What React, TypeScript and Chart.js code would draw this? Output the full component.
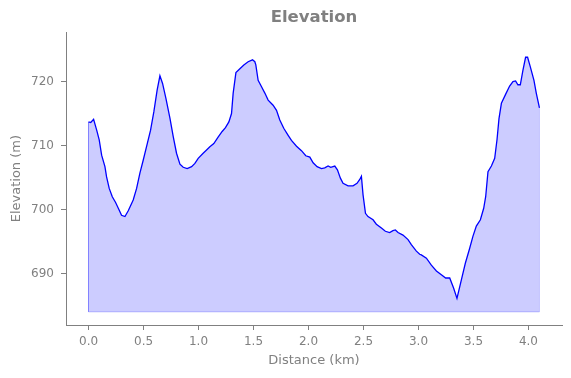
import { useEffect, useRef } from 'react';
import { Chart, registerables } from 'chart.js';

Chart.register(...registerables);

const DISTANCE_KM = [
  0, 0.02, 0.046, 0.074, 0.097, 0.119, 0.149, 0.164, 0.188, 0.216, 0.246, 0.276, 0.3, 0.331, 0.361,
  0.406, 0.437, 0.467, 0.497, 0.534, 0.564, 0.594, 0.624, 0.649, 0.673, 0.703, 0.74, 0.77, 0.8,
  0.831, 0.861, 0.897, 0.937, 0.967, 0.997, 1.042, 1.073, 1.103, 1.139, 1.178, 1.215, 1.245, 1.276,
  1.3, 1.315, 1.34, 1.376, 1.412, 1.451, 1.491, 1.512, 1.521, 1.542, 1.573, 1.603, 1.633, 1.678,
  1.709, 1.739, 1.775, 1.815, 1.845, 1.891, 1.936, 1.975, 2.012, 2.042, 2.078, 2.118, 2.148, 2.178,
  2.202, 2.239, 2.263, 2.29, 2.314, 2.36, 2.405, 2.441, 2.466, 2.481, 2.496, 2.518, 2.541, 2.587,
  2.617, 2.663, 2.699, 2.738, 2.768, 2.79, 2.814, 2.859, 2.905, 2.935, 2.981, 3.011, 3.026, 3.072,
  3.117, 3.163, 3.208, 3.247, 3.284, 3.32, 3.35, 3.39, 3.426, 3.465, 3.495, 3.526, 3.563, 3.593,
  3.611, 3.632, 3.663, 3.693, 3.714, 3.732, 3.754, 3.792, 3.829, 3.859, 3.883, 3.904, 3.926, 3.95,
  3.974, 3.992, 4.017, 4.05, 4.071, 4.1,
];

const ELEVATION_M = [
  713.7, 713.6, 714.1, 712.4, 710.9, 708.5, 706.7, 705.1, 703.3, 702.0, 701.1, 700.0, 699.1, 698.9, 699.8,
  701.5, 703.3, 705.7, 707.7, 710.3, 712.4, 715.3, 718.7, 720.9, 719.7, 717.4, 714.3, 711.4, 708.8,
  707.1, 706.6, 706.4, 706.7, 707.2, 708.0, 708.8, 709.3, 709.8, 710.3, 711.3, 712.2, 712.8, 713.7,
  715.0, 718.2, 721.4, 722.0, 722.6, 723.1, 723.4, 723.1, 722.6, 720.2, 719.2, 718.2, 717.1, 716.3,
  715.5, 714.0, 712.7, 711.6, 710.8, 709.9, 709.2, 708.4, 708.2, 707.3, 706.7, 706.4, 706.5, 706.8,
  706.6, 706.8, 706.2, 704.9, 704.1, 703.7, 703.7, 704.1, 704.7, 705.2, 702.3, 699.4, 698.9, 698.4,
  697.7, 697.1, 696.6, 696.4, 696.7, 696.8, 696.4, 696.0, 695.3, 694.5, 693.5, 693.0, 692.9, 692.4,
  691.3, 690.4, 689.8, 689.3, 689.3, 687.7, 686.1, 689.0, 691.6, 693.9, 695.8, 697.4, 698.4, 700.2,
  702.0, 705.9, 706.8, 708.0, 710.9, 714.2, 716.6, 718.0, 719.3, 720.0, 720.1, 719.5, 719.5, 721.8,
  723.8, 723.8, 722.3, 720.2, 718.2, 715.9,
];

const X_TICKS = [0, 0.5, 1.0, 1.5, 2.0, 2.5, 3.0, 3.5, 4.0];
const Y_TICKS = [690, 700, 710, 720];
const FILL_BASE_M = 684;
const X_MIN = -0.205;
const X_MAX = 4.305;
const Y_MIN = 681.95;
const Y_MAX = 727.7;

const GRAY = '#808080';
const FONT = 'DejaVu Sans';

export default function App() {
  const canvasRef = useRef<HTMLCanvasElement | null>(null);

  useEffect(() => {
    if (!canvasRef.current) return;
    const linePts = DISTANCE_KM.map((x, i) => ({ x, y: ELEVATION_M[i] }));
    const first = DISTANCE_KM[0];
    const last = DISTANCE_KM[DISTANCE_KM.length - 1];
    const edgePts = [
      { x: first, y: ELEVATION_M[0] },
      { x: first, y: FILL_BASE_M },
      { x: last, y: FILL_BASE_M },
      { x: last, y: ELEVATION_M[ELEVATION_M.length - 1] },
    ];

    const chart = new Chart(canvasRef.current, {
      type: 'line',
      data: {
        datasets: [
          {
            data: linePts,
            borderColor: '#0000ff',
            borderWidth: 1.3,
            pointRadius: 0,
            tension: 0,
            fill: false,
            order: 0,
          },
          {
            data: edgePts,
            borderColor: 'rgba(0,0,255,0.2)',
            borderWidth: 1,
            pointRadius: 0,
            tension: 0,
            fill: false,
            order: 1,
          },
          {
            data: linePts,
            borderWidth: 0,
            borderColor: 'rgba(0,0,0,0)',
            backgroundColor: 'rgba(0,0,255,0.2)',
            pointRadius: 0,
            tension: 0,
            fill: { value: FILL_BASE_M },
            order: 2,
          },
        ],
      },
      options: {
        animation: false,
        responsive: true,
        maintainAspectRatio: false,
        layout: { padding: { left: 0, right: 9, top: 0, bottom: 0 } },
        plugins: {
          legend: { display: false },
          tooltip: { enabled: false },
          title: {
            display: true,
            fullSize: false,
            text: 'Elevation',
            color: GRAY,
            font: { family: FONT, size: 16.5, weight: 'bold' },
            padding: { top: 8, bottom: 4.5 },
          },
        },
        scales: {
          x: {
            type: 'linear',
            min: X_MIN,
            max: X_MAX,
            afterBuildTicks: (s: any) => {
              s.ticks = X_TICKS.map((v) => ({ value: v }));
            },
            afterFit: (s: any) => {
              s.height = 53;
            },
            ticks: {
              color: GRAY,
              font: { family: FONT, size: 12 },
              padding: 5,
              maxRotation: 0,
              autoSkip: false,
              callback: (v: any) => Number(v).toFixed(1),
            },
            grid: {
              display: true,
              drawOnChartArea: false,
              drawTicks: true,
              tickLength: 5,
              color: GRAY,
            },
            border: { display: true, color: GRAY, width: 1 },
            title: {
              display: true,
              text: 'Distance (km)',
              color: GRAY,
              font: { family: FONT, size: 13 },
              padding: { top: 0, bottom: 9.5 },
            },
          },
          y: {
            type: 'linear',
            min: Y_MIN,
            max: Y_MAX,
            afterBuildTicks: (s: any) => {
              s.ticks = Y_TICKS.map((v) => ({ value: v }));
            },
            afterFit: (s: any) => {
              s.width = 66;
            },
            ticks: {
              color: GRAY,
              font: { family: FONT, size: 12 },
              padding: 7,
              callback: (v: any) => String(Math.round(Number(v))),
            },
            grid: {
              display: true,
              drawOnChartArea: false,
              drawTicks: true,
              tickLength: 5,
              color: GRAY,
            },
            border: { display: true, color: GRAY, width: 1 },
            title: {
              display: true,
              text: 'Elevation (m)',
              color: GRAY,
              font: { family: FONT, size: 13 },
              padding: { top: 8.7, bottom: 0 },
            },
          },
        },
      },
    });
    return () => chart.destroy();
  }, []);

  return (
    <div style={{ position: 'absolute', left: 0, top: 0, width: 571, height: 378 }}>
      <canvas ref={canvasRef} />
    </div>
  );
}
